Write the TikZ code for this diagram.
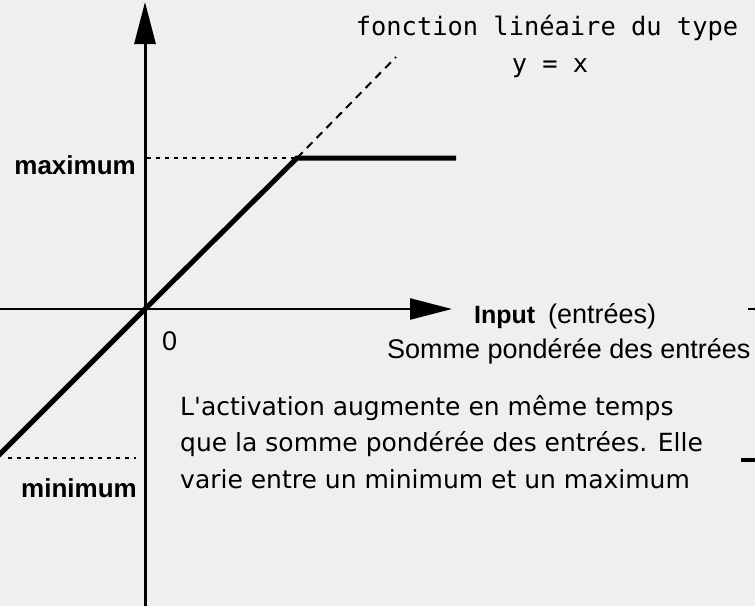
\documentclass[tikz,border=0pt]{standalone}
\usepackage{fontspec}
\setmainfont{Liberation Sans}
\newfontfamily\parafont{DejaVu Sans}
\newfontfamily\monofont{DejaVu Sans Mono}
\usetikzlibrary{arrows.meta}
\definecolor{Paper}{HTML}{EFEFEF}

\begin{document}
\begin{tikzpicture}[x=1pt,y=-1pt,
    axisline/.style={line width=#1,-{Triangle[length=42pt,width=21pt]}},
    curve/.style={line width=5pt,line join=miter},
    guide/.style={line width=2pt,dash pattern=on 4pt off 5pt},
    lbl/.style={anchor=base west,inner sep=0pt,font=\fontsize{27}{32}\selectfont},
    boldlbl/.style={anchor=base east,inner sep=0pt,font=\bfseries\fontsize{26}{30}\selectfont},
    txt/.style={anchor=base west,inner sep=0pt,font=\parafont\fontsize{25}{30}\selectfont},
    mono/.style={anchor=base,inner sep=0pt,font=\monofont\fontsize{25.4}{30}\selectfont}]
    \fill[Paper] (0,0) rectangle (755,606);
    \useasboundingbox (0,0) rectangle (755,606);
    \clip (0,0) rectangle (755,606);
    % points of the graph
    \coordinate (O) at (145,309);
    \coordinate (ytop) at (145,2);
    \coordinate (ybot) at (145,606);
    \coordinate (xleft) at (0,309);
    \coordinate (xright) at (452,309);
    \coordinate (low) at (-4,458);
    \coordinate (knee) at (297,158);
    \coordinate (plat) at (456,158);
    \coordinate (dashend) at (396,57);
    \coordinate (maxstart) at (147,158);
    \coordinate (minstart) at (8,458);
    \coordinate (minend) at (136,458);
    % axes
    \draw[axisline=3pt] (ybot) -- (ytop);
    \draw[axisline=2.5pt] (xleft) -- (xright);
    % guides
    \draw[guide] (maxstart) -- (knee);
    \draw[guide] (minstart) -- (minend);
    \draw[line width=2pt,dash pattern=on 8pt off 6pt] (knee) -- (dashend);
    % activation curve
    \draw[curve] (low) -- (O) -- (knee) -- (plat);
    % labels
    \node[boldlbl] (maxlbl) at (136,174) {maximum};
    \node[boldlbl] (minlbl) at (137,497) {minimum};
    \node[lbl] (zero) at (162,350) {0};
    \node[lbl,font=\bfseries\fontsize{25}{30}\selectfont] (input) at (474,323) {Input};
    \node[lbl] (entrees) at (548,323) {(entrées)};
    \node[lbl] (somme) at (387,358) {Somme pondérée des entrées};
    \node[mono] (fonction) at (547,35) {fonction linéaire du type};
    \node[mono] (yx) at (550,72) {y = x};
    \node[txt] (line1) at (180,415) {L'activation augmente en même temps};
    \node[txt] (line2) at (180,451) {que la somme pondérée des entrées. Elle};
    \node[txt] (line3) at (180,488) {varie entre un minimum et un maximum};
    % cut-off marks at the right edge
    \draw[line width=2pt] (748,309) -- (755,309);
    \draw[line width=4pt] (741,460) -- (755,460);
\end{tikzpicture}
\end{document}
